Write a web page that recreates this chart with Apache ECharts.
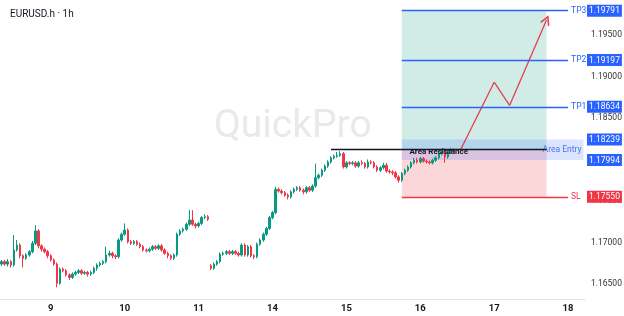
<!DOCTYPE html>
<html><head><meta charset="utf-8">
<script src="https://cdn.jsdelivr.net/npm/echarts@6/dist/echarts.min.js"></script>
<style>html,body{margin:0;padding:0;background:#fff}#c{width:624px;height:316px}</style>
</head><body><div id="c"></div>
<script>
// ---- data ----
const title = 'EURUSD.h · 1h';
const dayLabels = ['9', '10', '11', '14', '15', '16', '17', '18'];
const firstDaySlot = 16;      // hourly slot where the first day label sits
const hoursPerDay = 24;
const totalSlots = 190;       // hourly slots incl. future space
// [open, close, low, high]
const candles = [
[1.1674,1.1677,1.1672,1.1679],[1.1677,1.1674,1.1672,1.1679],[1.1674,1.1677,1.1671,1.1680],[1.1677,1.1673,1.1670,1.1679],
[1.1673,1.1691,1.1671,1.1709],[1.1691,1.1697,1.1689,1.1703],[1.1697,1.1684,1.1681,1.1699],[1.1684,1.1681,1.1670,1.1686],
[1.1681,1.1685,1.1679,1.1687],[1.1685,1.1689,1.1683,1.1691],[1.1689,1.1699,1.1687,1.1702],[1.1699,1.1714,1.1697,1.1721],
[1.1714,1.1696,1.1693,1.1716],[1.1696,1.1692,1.1689,1.1698],[1.1692,1.1689,1.1687,1.1694],[1.1689,1.1684,1.1681,1.1691],
[1.1684,1.1679,1.1677,1.1686],[1.1679,1.1674,1.1672,1.1681],[1.1674,1.1651,1.1646,1.1676],[1.1651,1.1668,1.1649,1.1670],
[1.1668,1.1666,1.1664,1.1670],[1.1666,1.1661,1.1659,1.1668],[1.1661,1.1658,1.1655,1.1663],[1.1658,1.1662,1.1656,1.1664],
[1.1662,1.1664,1.1660,1.1666],[1.1664,1.1666,1.1662,1.1668],[1.1666,1.1663,1.1661,1.1668],[1.1663,1.1664,1.1661,1.1666],
[1.1664,1.1662,1.1659,1.1666],[1.1662,1.1664,1.1660,1.1666],[1.1664,1.1669,1.1662,1.1671],[1.1669,1.1673,1.1666,1.1675],
[1.1673,1.1675,1.1671,1.1677],[1.1675,1.1677,1.1673,1.1679],[1.1677,1.1685,1.1675,1.1695],[1.1685,1.1687,1.1683,1.1690],
[1.1687,1.1684,1.1681,1.1689],[1.1684,1.1683,1.1680,1.1686],[1.1683,1.1703,1.1681,1.1705],[1.1703,1.1710,1.1701,1.1712],
[1.1710,1.1715,1.1708,1.1723],[1.1715,1.1701,1.1699,1.1717],[1.1701,1.1699,1.1697,1.1703],[1.1699,1.1701,1.1697,1.1703],
[1.1701,1.1698,1.1696,1.1703],[1.1698,1.1695,1.1693,1.1700],[1.1695,1.1691,1.1689,1.1697],[1.1691,1.1690,1.1688,1.1693],
[1.1690,1.1692,1.1688,1.1694],[1.1692,1.1695,1.1690,1.1697],[1.1695,1.1693,1.1691,1.1697],[1.1693,1.1696,1.1691,1.1698],
[1.1696,1.1691,1.1689,1.1698],[1.1691,1.1687,1.1685,1.1693],[1.1687,1.1684,1.1681,1.1689],[1.1684,1.1681,1.1679,1.1686],
[1.1681,1.1685,1.1679,1.1687],[1.1685,1.1710,1.1683,1.1712],[1.1710,1.1714,1.1708,1.1716],[1.1714,1.1716,1.1712,1.1718],
[1.1716,1.1722,1.1714,1.1724],[1.1722,1.1727,1.1720,1.1739],[1.1727,1.1722,1.1720,1.1739],[1.1722,1.1720,1.1717,1.1724],
[1.1720,1.1723,1.1718,1.1725],[1.1723,1.1730,1.1721,1.1732],[1.1730,1.1731,1.1728,1.1734],[1.1731,1.1728,1.1726,1.1733],
[1.1672,1.1669,1.1667,1.1674],[1.1669,1.1674,1.1667,1.1676],[1.1674,1.1677,1.1672,1.1679],[1.1677,1.1686,1.1675,1.1688],
[1.1686,1.1687,1.1684,1.1689],[1.1687,1.1689,1.1685,1.1691],[1.1689,1.1687,1.1685,1.1691],[1.1687,1.1689,1.1685,1.1691],
[1.1689,1.1687,1.1685,1.1691],[1.1687,1.1685,1.1683,1.1689],[1.1685,1.1697,1.1683,1.1699],[1.1697,1.1685,1.1683,1.1699],
[1.1685,1.1695,1.1683,1.1697],[1.1695,1.1684,1.1682,1.1697],[1.1684,1.1683,1.1680,1.1686],[1.1683,1.1698,1.1681,1.1700],
[1.1698,1.1703,1.1696,1.1705],[1.1703,1.1710,1.1701,1.1712],[1.1710,1.1717,1.1708,1.1719],[1.1717,1.1730,1.1715,1.1732],
[1.1730,1.1736,1.1728,1.1738],[1.1736,1.1764,1.1734,1.1767],[1.1764,1.1762,1.1760,1.1766],[1.1762,1.1760,1.1758,1.1764],
[1.1760,1.1757,1.1755,1.1762],[1.1757,1.1755,1.1752,1.1759],[1.1755,1.1761,1.1753,1.1763],[1.1761,1.1764,1.1759,1.1766],
[1.1764,1.1766,1.1762,1.1768],[1.1766,1.1763,1.1761,1.1768],[1.1763,1.1761,1.1758,1.1765],[1.1761,1.1766,1.1759,1.1768],
[1.1766,1.1763,1.1761,1.1768],[1.1763,1.1768,1.1761,1.1770],[1.1768,1.1778,1.1766,1.1795],[1.1778,1.1781,1.1776,1.1783],
[1.1781,1.1787,1.1779,1.1789],[1.1787,1.1792,1.1785,1.1794],[1.1792,1.1797,1.1790,1.1799],[1.1797,1.1802,1.1795,1.1804],
[1.1802,1.1804,1.1800,1.1806],[1.1804,1.1805,1.1802,1.1809],[1.1805,1.1807,1.1803,1.1810],[1.1807,1.1791,1.1789,1.1809],
[1.1791,1.1796,1.1789,1.1798],[1.1796,1.1795,1.1793,1.1798],[1.1795,1.1796,1.1793,1.1798],[1.1796,1.1792,1.1790,1.1798],
[1.1792,1.1796,1.1790,1.1798],[1.1796,1.1795,1.1793,1.1799],[1.1795,1.1791,1.1789,1.1797],[1.1791,1.1797,1.1789,1.1800],
[1.1797,1.1796,1.1794,1.1799],[1.1796,1.1791,1.1789,1.1798],[1.1791,1.1787,1.1785,1.1793],[1.1787,1.1790,1.1785,1.1792],
[1.1790,1.1793,1.1788,1.1796],[1.1793,1.1786,1.1784,1.1796],[1.1786,1.1785,1.1783,1.1788],[1.1785,1.1784,1.1781,1.1787],
[1.1784,1.1779,1.1777,1.1786],[1.1779,1.1775,1.1772,1.1781],[1.1775,1.1783,1.1773,1.1785],[1.1783,1.1787,1.1781,1.1789],
[1.1787,1.1791,1.1785,1.1793],[1.1791,1.1796,1.1789,1.1798],[1.1796,1.1799,1.1794,1.1802],[1.1799,1.1797,1.1795,1.1802],
[1.1797,1.1801,1.1795,1.1803],[1.1801,1.1798,1.1796,1.1803],[1.1798,1.1797,1.1795,1.1800],[1.1797,1.1796,1.1794,1.1799],
[1.1796,1.1799,1.1794,1.1801],[1.1799,1.1802,1.1797,1.1804],[1.1802,1.1807,1.1800,1.1809],[1.1807,1.1809,1.1805,1.1811],
[1.1809,1.1803,1.1796,1.1813],[1.1803,1.1809,1.1801,1.1811],[1.1809,1.1811,1.1807,1.1814],[1.1811,1.1810,1.1808,1.1813]
];
const priceTicks = [1.165, 1.17, 1.175, 1.18, 1.185, 1.19, 1.195];
const tpLevels = [['TP3', 1.19791], ['TP2', 1.19197], ['TP1', 1.18634]];
const slLevel = ['SL', 1.17550];
const entryZone = [1.17994, 1.18239];
const entryPrice = 1.18117;
const resistancePrice = 1.18117;
const zoneSlots = [130, 177];       // position box start/end slot
const levelEndSlot = 184;
const entryBandEndSlot = 189;
const resistanceSlots = [107, 177];
const arrowPath = [[149, 1.1811], [160, 1.1893], [165, 1.1865], [177, 1.1968]];
const boxLabels = [1.19791, 1.19197, 1.18634, 1.18239, 1.17994, 1.17550];
const yMin = 1.1632, yMax = 1.1992;

// ---- build ----
const categories = [];
const labelAt = {};
for (let i = 0; i < totalSlots; i++) {
  categories.push(String(i));
  const k = (i - firstDaySlot) / hoursPerDay;
  if (i >= firstDaySlot && Number.isInteger(k) && k < dayLabels.length) labelAt[i] = dayLabels[k];
}
const BLUE = '#2962ff', RED = '#f23645', GREEN = '#089981', TXT = '#131722', ARROW = '#e0404e';
const FONT = 'Roboto, sans-serif';

const levelLines = tpLevels.map(([n, v]) => [
  { coord: [zoneSlots[0], v], lineStyle: { color: BLUE, width: 1.3, type: 'solid' },
    label: { show: true, position: 'end', formatter: n, color: BLUE, fontSize: 8.5, distance: 3 } },
  { coord: [levelEndSlot, v] }
]);
levelLines.push([
  { coord: [zoneSlots[0], slLevel[1]], lineStyle: { color: RED, width: 1.3, type: 'solid' },
    label: { show: true, position: 'end', formatter: slLevel[0], color: RED, fontSize: 8.5, distance: 3 } },
  { coord: [levelEndSlot, slLevel[1]] }
]);
levelLines.push([
  { coord: [resistanceSlots[0], resistancePrice], lineStyle: { color: TXT, width: 1.4, type: 'solid' },
    label: { show: true, position: 'middle', formatter: 'Area Resistance', color: TXT, fontSize: 8, fontWeight: 'bold', distance: -6 } },
  { coord: [resistanceSlots[1], resistancePrice] }
]);

const arrowSegments = [];
for (let i = 0; i < arrowPath.length - 2; i++) arrowSegments.push({ coords: [arrowPath[i], arrowPath[i + 1]] });
const arrowHeadSegment = [{ coords: [arrowPath[arrowPath.length - 2], arrowPath[arrowPath.length - 1]] }];

const chart = echarts.init(document.getElementById('c'), null, { renderer: 'canvas' });
chart.setOption({
  animation: false,
  backgroundColor: '#ffffff',
  textStyle: { fontFamily: FONT },
  title: { text: title, left: 5, top: 4, textStyle: { fontSize: 10, fontWeight: 'normal', color: TXT } },
  graphic: [{ type: 'text', left: 214, top: 108, z: -1,
    style: { text: 'QuickPro', fontSize: 39, fontFamily: 'Roboto', fill: '#e9e9e9' } }],
  grid: { left: 0, right: 39, top: 0, bottom: 17, outerBoundsMode: 'none', containLabel: false },
  xAxis: {
    type: 'category', data: categories, boundaryGap: true,
    axisLine: { lineStyle: { color: '#e0e3eb' } },
    axisTick: { show: false },
    splitLine: { show: false },
    axisLabel: {
      interval: (idx) => labelAt[idx] !== undefined,
      formatter: (v, idx) => labelAt[idx] || '',
      color: TXT, fontSize: 9.5, fontWeight: 'bold', margin: 5
    }
  },
  yAxis: [{
    type: 'value', position: 'right', min: yMin, max: yMax, scale: true,
    axisLine: { show: false }, axisTick: { show: false }, splitLine: { show: false },
    axisLabel: { customValues: priceTicks, formatter: (v) => v.toFixed(5), color: '#333', fontSize: 8.5, margin: 6 }
  }, {
    type: 'value', position: 'right', min: yMin, max: yMax, scale: true,
    axisLine: { show: false }, axisTick: { show: false }, splitLine: { show: false },
    axisLabel: {
      customValues: boxLabels, margin: 2,
      formatter: (v) => (v === slLevel[1] ? '{r|' : '{b|') + v.toFixed(5) + '}',
      rich: {
        b: { backgroundColor: BLUE, color: '#fff', fontSize: 8.5, padding: [2, 2, 1, 2] },
        r: { backgroundColor: RED, color: '#fff', fontSize: 8.5, padding: [2, 2, 1, 2] }
      }
    }
  }],
  series: [{
    type: 'candlestick',
    data: candles,
    barWidth: 2,
    itemStyle: { color: GREEN, color0: RED, borderColor: GREEN, borderColor0: RED, borderWidth: 1 },
    markArea: {
      silent: true,
      data: [
        [{ coord: [zoneSlots[0], entryPrice], itemStyle: { color: 'rgba(8,153,129,0.19)' } }, { coord: [zoneSlots[1], tpLevels[0][1]] }],
        [{ coord: [zoneSlots[0], slLevel[1]], itemStyle: { color: 'rgba(242,54,69,0.2)' } }, { coord: [zoneSlots[1], entryPrice] }],
        [{ coord: [zoneSlots[0], entryZone[0]], itemStyle: { color: 'rgba(41,98,255,0.17)' },
           label: { show: true, position: 'insideRight', formatter: 'Area Entry', color: '#4a78e8', fontSize: 8.5, distance: 2 } },
         { coord: [entryBandEndSlot, entryZone[1]] }]
      ]
    },
    markLine: { silent: true, symbol: ['none', 'none'], data: levelLines }
  }, {
    type: 'lines', coordinateSystem: 'cartesian2d',
    symbol: ['none', 'none'],
    lineStyle: { color: ARROW, width: 1.3, opacity: 1 },
    data: arrowSegments
  }, {
    type: 'lines', coordinateSystem: 'cartesian2d',
    symbol: ['none', 'path://M5,0 L10,9 L8.6,9.8 L5,3.2 L1.4,9.8 L0,9 Z'], symbolSize: [11, 10],
    lineStyle: { color: ARROW, width: 1.3, opacity: 1 },
    data: arrowHeadSegment
  }]
});
</script></body></html>
